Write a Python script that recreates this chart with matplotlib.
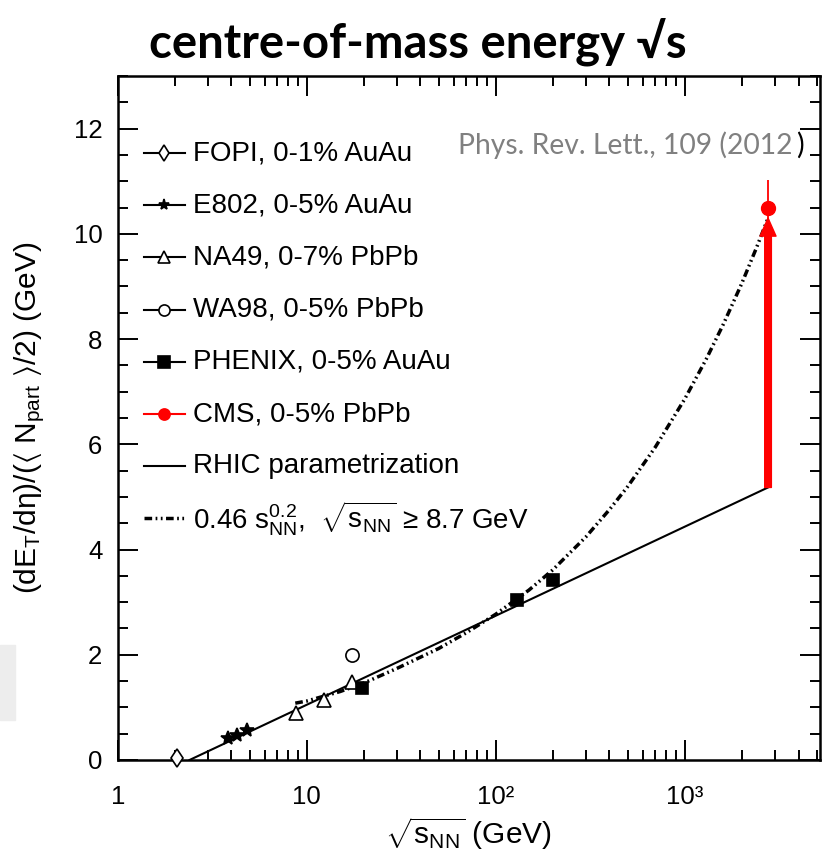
import numpy as np
import matplotlib.pyplot as plt
from matplotlib.patches import Rectangle
from matplotlib.ticker import FixedLocator, MultipleLocator, LogLocator, NullFormatter

plt.rcParams['font.family'] = ['Liberation Sans', 'DejaVu Sans']
plt.rcParams['mathtext.fontset'] = 'custom'
plt.rcParams['mathtext.rm'] = 'Liberation Sans'
plt.rcParams['mathtext.it'] = 'Liberation Sans:italic'
plt.rcParams['mathtext.default'] = 'regular'

# measurements: sqrt(s_NN) in GeV, dET/deta per participant pair in GeV
fopi_x = [2.07]
fopi_y = [0.03]
e802_x = [3.85, 4.27, 4.82]
e802_y = [0.41, 0.47, 0.57]
na49_x = [8.8, 12.4, 17.3]
na49_y = [0.90, 1.14, 1.49]
wa98_x = [17.3]
wa98_y = [2.0]
phenix_x = [19.6, 130, 200]
phenix_y = [1.36, 3.04, 3.43]
cms_x = [2760]
cms_y = [10.5]
cms_err = [0.52]

# RHIC parametrization (log-linear) and the power-law curve
rhic_x = [2.4, 2760]
rhic_y = [0.0, 5.18]
fit_x = [8.7, 10, 15, 20, 30, 50, 70, 100, 150, 200, 300, 400, 500, 700,
         1000, 1300, 1600, 2000, 2400, 2760]
fit_y = [1.08, 1.12, 1.30, 1.46, 1.74, 2.12, 2.42, 2.77, 3.23, 3.61, 4.24,
         4.76, 5.20, 5.95, 6.86, 7.62, 8.28, 9.05, 9.74, 10.30]

x_ticks = [1, 10, 100, 1000]
x_ticklabels = ['1', '10', '10²', '10³']

fig = plt.figure(figsize=(8.23, 8.60), dpi=100)
ax = fig.add_axes([0.1430, 0.1163, 0.8534, 0.7953])

dashdot2 = (0, (2.2, 1.0, 0.5, 1.0, 0.5, 1.0))

ax.plot(rhic_x, rhic_y, color='black', lw=1.5, zorder=2)
ax.plot(fit_x, fit_y, color='black', lw=2.5, ls=dashdot2, zorder=2)

ax.annotate('', xy=(cms_x[0], fit_y[-1]), xytext=(cms_x[0], rhic_y[-1]),
            arrowprops=dict(arrowstyle='simple,head_length=1.3,head_width=1.15,tail_width=0.48',
                            color='red', shrinkA=0, shrinkB=0, mutation_scale=10),
            zorder=3)

mk = dict(color='black', ls='none', mew=1.2, zorder=4)
ax.plot(fopi_x, fopi_y, marker='d', ms=9.5, mfc='white', clip_on=False, **mk)
ax.plot(e802_x, e802_y, marker='*', ms=10, mfc='black', **mk)
ax.plot(na49_x, na49_y, marker='^', ms=10, mfc='white', **mk)
ax.plot(wa98_x, wa98_y, marker='o', ms=9.5, mfc='white', **mk)
ax.plot(phenix_x, phenix_y, marker='s', ms=9, mfc='black', **mk)
ax.errorbar(cms_x, cms_y, yerr=cms_err, fmt='o', color='red', ms=10,
            elinewidth=1.3, capsize=0, zorder=5)

# legend drawn by hand
entries = [
    ('FOPI, 0-1% AuAu', dict(marker='d', ms=8, mfc='white', color='black')),
    ('E802, 0-5% AuAu', dict(marker='*', ms=8, mfc='black', color='black')),
    ('NA49, 0-7% PbPb', dict(marker='^', ms=9, mfc='white', color='black')),
    ('WA98, 0-5% PbPb', dict(marker='o', ms=8, mfc='white', color='black')),
    ('PHENIX, 0-5% AuAu', dict(marker='s', ms=8, mfc='black', color='black')),
    ('CMS, 0-5% PbPb', dict(marker='o', ms=8, mfc='red', color='red')),
    ('RHIC parametrization', dict(color='black')),
    (r'0.46 s$_{NN}^{0.2}$,  $\sqrt{s_{NN}}$ ≥ 8.7 GeV', dict(color='black', lw=2.5, ls=dashdot2)),
]
x0, x1, xt = 0.0374, 0.0958, 0.1072
for i, (label, style) in enumerate(entries):
    yy = (760 - (153 + i * 52.2)) / 684
    st = dict(lw=1.5, mew=1.2)
    st.update(style)
    ax.plot([x0, (x0 + x1) / 2, x1], [yy, yy, yy], transform=ax.transAxes,
            markevery=[1], **st)
    ax.text(xt, yy, label, transform=ax.transAxes, fontsize=20, va='center')

ax.set_xscale('log')
ax.set_xlim(1, 5200)
ax.set_ylim(0, 13)
ax.xaxis.set_major_locator(FixedLocator(x_ticks))
ax.set_xticklabels(x_ticklabels)
ax.xaxis.set_minor_locator(LogLocator(base=10, subs=np.arange(2, 10)))
ax.xaxis.set_minor_formatter(NullFormatter())
ax.yaxis.set_major_locator(MultipleLocator(2))
ax.yaxis.set_minor_locator(MultipleLocator(0.5))
ax.tick_params(which='both', direction='in', top=True, right=True, width=1.4,
               labelsize=18.5)
ax.tick_params(which='major', length=14.5)
ax.tick_params(which='minor', length=7)
ax.tick_params(axis='x', pad=18)
ax.tick_params(axis='y', pad=11)
for sp in ax.spines.values():
    sp.set_linewidth(1.8)

ax.set_xlabel(r'$\sqrt{s_{NN}}$ (GeV)', fontsize=21.5, labelpad=4)
ax.set_ylabel(r'(dE$_{T}$/d$\eta$)/($\langle$ N$_{part}$ $\rangle$/2) (GeV)',
              fontsize=21.5, labelpad=19)

fig.text(0.508, 0.951, 'centre-of-mass energy √s', fontsize=34,
         fontweight='bold', family=['Lato', 'DejaVu Sans'],
         ha='center', va='center')
fig.text(458 / 823, 1 - 145 / 860, 'Phys. Rev. Lett., 109 (2012',
         color='#808080', fontsize=20.3, family=['Lato', 'DejaVu Sans'],
         va='center')
fig.text(796 / 823, 1 - 145 / 860, ')', color='black', fontsize=20.3,
         family=['Lato', 'DejaVu Sans'], va='center')

fig.patches.append(Rectangle((0, 1 - 720 / 860), 15 / 823, 75 / 860,
                             transform=fig.transFigure, color='#ededed',
                             zorder=0))

fig.savefig('out.png', dpi=100)
